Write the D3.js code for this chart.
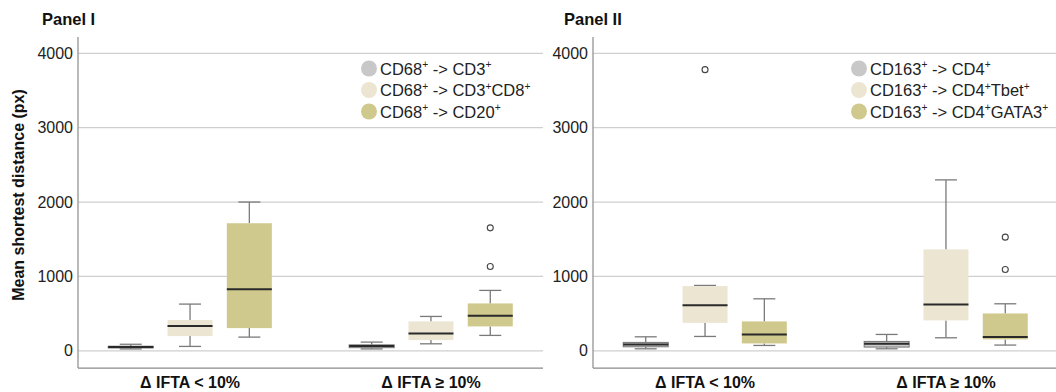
<!DOCTYPE html>
<html>
<head>
<meta charset="utf-8">
<script src="https://cdn.jsdelivr.net/npm/d3@7"></script>
<style>
  html, body { margin: 0; padding: 0; background: #fff; }
  svg { display: block; font-family: "Liberation Sans", Arial, sans-serif; }
</style>
</head>
<body>
<svg id="chart" width="1056" height="392"></svg>
<script>
// ---------- DATA ----------
const categories = ["\u0394 IFTA < 10%", "\u0394 IFTA \u2265 10%"];
const yTicks = [0, 1000, 2000, 3000, 4000];
const panelTitles = ["Panel I", "Panel II"];

const panel1Series = ["CD68^+ -> CD3^+", "CD68^+ -> CD3^+CD8^+", "CD68^+ -> CD20^+"];
const panel2Series = ["CD163^+ -> CD4^+", "CD163^+ -> CD4^+Tbet^+", "CD163^+ -> CD4^+GATA3^+"];
const seriesColors = ["#c8c8c8", "#ebe5d2", "#cfc98d"];

// box stats per category: [min, q1, median, q3, max]
const p1_cd3      = [[25, 38, 50, 62, 88],    [25, 42, 65, 80, 117]];
const p1_cd3cd8   = [[59, 198, 332, 413, 628], [94, 144, 234, 395, 462]];
const p1_cd20     = [[184, 305, 828, 1715, 2000], [207, 328, 470, 637, 812]];
const p2_cd4      = [[27, 54, 86, 113, 188],  [27, 50, 94, 126, 220]];
const p2_cd4tbet  = [[193, 376, 614, 870, 879], [175, 409, 624, 1363, 2298]];
const p2_cd4gata3 = [[72, 99, 220, 395, 699], [77, 153, 184, 502, 632]];

// outliers per category
const p1_cd3_out = [[], []];
const p1_cd3cd8_out = [[], []];
const p1_cd20_out = [[], [1134, 1653]];
const p2_cd4_out = [[], []];
const p2_cd4tbet_out = [[3780], []];
const p2_cd4gata3_out = [[], [1094, 1528]];

// ---------- LAYOUT ----------
const svg = d3.select("#chart");
const yTop = 53.3, yZero = 350.8;
const y = d3.scaleLinear().domain([0, 4000]).range([yZero, yTop]);
const axisTopVal = 4220, axisBottomVal = -232;

const panels = [
  { title: panelTitles[0], x0: 78, x1: 543, titleX: 42, legendX: 369,
    series: panel1Series,
    stats: [p1_cd3, p1_cd3cd8, p1_cd20],
    outs: [p1_cd3_out, p1_cd3cd8_out, p1_cd20_out] },
  { title: panelTitles[1], x0: 593, x1: 1058, titleX: 564, legendX: 859,
    series: panel2Series,
    stats: [p2_cd4, p2_cd4tbet, p2_cd4gata3],
    outs: [p2_cd4_out, p2_cd4tbet_out, p2_cd4gata3_out] }
];

function addSupText(sel, label, fontSize) {
  const parts = label.split("^+");
  let raised = false;
  parts.forEach((p, i) => {
    if (p.length) {
      const t = sel.append("tspan").attr("font-size", fontSize).text(p);
      if (raised) { t.attr("dy", fontSize * 0.38); raised = false; }
    }
    if (i < parts.length - 1) {
      const s = sel.append("tspan").attr("font-size", fontSize * 0.62).text("+");
      if (!raised) s.attr("dy", -fontSize * 0.38);
      raised = true;
    }
  });
}

panels.forEach(P => {
  const g = svg.append("g");
  const x = d3.scalePoint().domain(categories).range([P.x0, P.x1]).padding(0.465);
  const xs = d3.scalePoint().domain(d3.range(3)).range([-59.3, 59.3]);
  const boxW = 45, capW = 22;

  // gridlines
  g.selectAll("line.grid").data(yTicks).join("line")
    .attr("x1", P.x0).attr("x2", P.x1)
    .attr("y1", d => y(d)).attr("y2", d => y(d))
    .attr("stroke", "#cfcfcf").attr("stroke-width", 1.2);

  // y axis
  const ax = g.append("g").attr("transform", `translate(${P.x0},0)`)
    .call(d3.axisLeft(y).tickValues(yTicks).tickSize(0).tickPadding(5).tickFormat(d3.format("d")));
  ax.select(".domain").remove();
  ax.selectAll("text").attr("font-size", 16).attr("fill", "#222")
    .attr("font-family", "'Liberation Sans', Arial, sans-serif");
  g.append("line").attr("x1", P.x0).attr("x2", P.x0)
    .attr("y1", y(axisTopVal)).attr("y2", y(axisBottomVal))
    .attr("stroke", "#8a8a8a").attr("stroke-width", 1.2);
  g.append("line").attr("x1", P.x0).attr("x2", P.x1)
    .attr("y1", y(axisBottomVal)).attr("y2", y(axisBottomVal))
    .attr("stroke", "#8a8a8a").attr("stroke-width", 1.2);

  // x labels
  g.selectAll("text.xl").data(categories).join("text")
    .attr("x", d => x(d)).attr("y", 387.5)
    .attr("text-anchor", "middle").attr("font-size", 16).attr("font-weight", "bold").attr("fill", "#111")
    .text(d => d);

  // title
  g.append("text").attr("x", P.titleX).attr("y", 25)
    .attr("font-size", 16.5).attr("font-weight", "bold").attr("fill", "#111").text(P.title);

  // boxes
  P.stats.forEach((st, si) => {
    categories.forEach((c, ci) => {
      const [mn, q1, md, q3, mx] = st[ci];
      const cx = x(c) + xs(si);
      const bg = g.append("g");
      // whiskers
      bg.append("line").attr("x1", cx).attr("x2", cx).attr("y1", y(mx)).attr("y2", y(q3))
        .attr("stroke", "#7a7a7a").attr("stroke-width", 1.3);
      bg.append("line").attr("x1", cx).attr("x2", cx).attr("y1", y(q1)).attr("y2", y(mn))
        .attr("stroke", "#7a7a7a").attr("stroke-width", 1.3);
      [mn, mx].forEach(v => bg.append("line")
        .attr("x1", cx - capW / 2).attr("x2", cx + capW / 2).attr("y1", y(v)).attr("y2", y(v))
        .attr("stroke", "#7a7a7a").attr("stroke-width", 1.3));
      // box
      const r = bg.append("rect").attr("x", cx - boxW / 2).attr("width", boxW)
        .attr("y", y(q3)).attr("height", Math.max(1, y(q1) - y(q3)))
        .attr("fill", seriesColors[si]);
      if (si === 0) r.attr("stroke", "#777").attr("stroke-width", 1);
      // median
      bg.append("line").attr("x1", cx - boxW / 2).attr("x2", cx + boxW / 2)
        .attr("y1", y(md)).attr("y2", y(md))
        .attr("stroke", "#2a2a2a").attr("stroke-width", 2);
      // outliers
      P.outs[si][ci].forEach(v => bg.append("circle")
        .attr("cx", cx).attr("cy", y(v)).attr("r", 3)
        .attr("fill", "#fff").attr("stroke", "#444").attr("stroke-width", 1.1));
    });
  });

  // legend
  const lg = g.append("g");
  P.series.forEach((s, i) => {
    const ly = 68.5 + i * 21.5;
    lg.append("circle").attr("cx", P.legendX).attr("cy", ly).attr("r", 8).attr("fill", seriesColors[i]);
    const t = lg.append("text").attr("x", P.legendX + 11).attr("y", ly + 6)
      .attr("font-size", 16.5).attr("fill", "#222");
    addSupText(t, s, 16.5);
  });
});

// y axis title
svg.append("text")
  .attr("transform", "translate(24,195) rotate(-90)")
  .attr("text-anchor", "middle").attr("font-size", 16).attr("font-weight", "bold").attr("fill", "#111")
  .text("Mean shortest distance (px)");
</script>
</body>
</html>
